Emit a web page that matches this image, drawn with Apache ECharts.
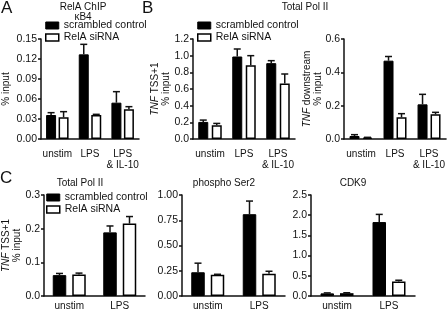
<!DOCTYPE html>
<html>
<head>
<meta charset="utf-8">
<script src="https://cdn.jsdelivr.net/npm/echarts@6/dist/echarts.min.js"></script>
<style>
  html, body { margin: 0; padding: 0; background: #fff; }
  #chart { width: 448px; height: 312px; }
</style>
</head>
<body>
<div id="chart"></div>
<script>
// categories
const cats3 = ['unstim', 'LPS', 'LPS\n& IL-10'];
const cats2 = ['unstim', 'LPS'];
const seriesNames = ['scrambled control', 'RelA siRNA'];

// A: RelA ChIP kB4 (% input), mean and SEM
const relaScr = [0.036, 0.127, 0.0545];
const relaScrSem = [0.0035, 0.015, 0.0165];
const relaSi = [0.0325, 0.036, 0.0445];
const relaSiSem = [0.0085, 0.001, 0.004];

// B left: Total Pol II, TNF TSS+1
const tssScr = [0.205, 0.99, 0.91];
const tssScrSem = [0.022, 0.09, 0.03];
const tssSi = [0.165, 0.885, 0.665];
const tssSiSem = [0.022, 0.115, 0.115];

// B right: Total Pol II, TNF downstream
const dnScr = [0.018, 0.47, 0.208];
const dnScrSem = [0.008, 0.025, 0.06];
const dnSi = [0.008, 0.13, 0.148];
const dnSiSem = [0.002, 0.022, 0.012];

// C: Total Pol II / phospho Ser2 / CDK9
const polScr = [0.062, 0.189];
const polScrSem = [0.005, 0.019];
const polSi = [0.064, 0.215];
const polSiSem = [0.004, 0.021];

const ser2Scr = [0.235, 0.81];
const ser2ScrSem = [0.09, 0.13];
const ser2Si = [0.21, 0.22];
const ser2SiSem = [0.005, 0.025];

const cdk9Scr = [0.065, 1.83];
const cdk9ScrSem = [0.012, 0.19];
const cdk9Si = [0.07, 0.36];
const cdk9SiSem = [0.01, 0.03];

const FONT = 'Liberation Sans, Arial, sans-serif';
const ink = '#111';

const chart = echarts.init(document.getElementById('chart'));

const grids = [
  { left: 40, top: 39, width: 99, height: 100 },   // A
  { left: 193, top: 39, width: 102, height: 100 }, // B left
  { left: 344, top: 39, width: 103, height: 100 }, // B right
  { left: 41, top: 195, width: 104, height: 101 }, // C left
  { left: 182, top: 195, width: 103, height: 101 },// C mid
  { left: 311, top: 195, width: 104, height: 101 } // C right
];

function xAxisFor(i, cats, margin, fs) {
  return {
    type: 'category', gridIndex: i, data: cats,
    axisLine: { lineStyle: { color: ink, width: 1.5 } },
    axisTick: { alignWithLabel: true, length: 3, lineStyle: { color: ink, width: 1.5 } },
    axisLabel: { interval: 0, margin: margin, color: ink, fontSize: fs, fontFamily: FONT, lineHeight: fs + 1 }
  };
}

function yAxisFor(i, max, interval, digits, name, nameGap) {
  const ax = {
    type: 'value', gridIndex: i, min: 0, max: max, interval: interval,
    axisLine: { show: true, lineStyle: { color: ink, width: 1.5 } },
    axisTick: { show: true, length: 3, lineStyle: { color: ink, width: 1.5 } },
    splitLine: { show: false },
    axisLabel: { margin: 4, color: ink, fontSize: 10.5, fontFamily: FONT, formatter: v => v.toFixed(digits) }
  };
  if (name) {
    ax.name = name;
    ax.nameLocation = 'middle';
    ax.nameGap = nameGap;
    ax.nameMoveOverlap = false;
    ax.nameTextStyle = {
      color: ink, fontSize: 10, fontFamily: FONT, lineHeight: 11,
      rich: { i: { fontStyle: 'italic', fontSize: 10, fontFamily: FONT, color: ink } }
    };
  }
  return ax;
}

function errRender(offset) {
  return function (params, api) {
    const c = api.value(0), v = api.value(1), e = api.value(2);
    const p0 = api.coord([c, v]);
    const p1 = api.coord([c, v + e]);
    const x = p0[0] + offset;
    const st = { stroke: ink, lineWidth: 1.5 };
    return {
      type: 'group',
      children: [
        { type: 'line', shape: { x1: x, y1: p0[1], x2: x, y2: p1[1] }, style: st },
        { type: 'line', shape: { x1: x - 3.5, y1: p1[1], x2: x + 3.5, y2: p1[1] }, style: st }
      ]
    };
  };
}

function panelSeries(i, scr, scrSem, si, siSem, bw, gap) {
  const off = (bw + gap) / 2;
  return [
    { name: seriesNames[0], type: 'bar', xAxisIndex: i, yAxisIndex: i, data: scr,
      barWidth: bw, barGap: (gap / bw * 100) + '%',
      itemStyle: { color: '#000', borderColor: '#000', borderWidth: 1 }, z: 2 },
    { name: seriesNames[1], type: 'bar', xAxisIndex: i, yAxisIndex: i, data: si,
      barWidth: bw,
      itemStyle: { color: '#fff', borderColor: '#000', borderWidth: 1.5 }, z: 2 },
    { type: 'custom', xAxisIndex: i, yAxisIndex: i, renderItem: errRender(-off),
      data: scr.map((v, k) => [k, v, scrSem[k]]), encode: { x: 0, y: 1 }, z: 3 },
    { type: 'custom', xAxisIndex: i, yAxisIndex: i, renderItem: errRender(off),
      data: si.map((v, k) => [k, v, siSem[k]]), encode: { x: 0, y: 1 }, z: 3 }
  ];
}

function legendAt(left, top, fs) {
  return {
    data: [
      { name: seriesNames[0], itemStyle: { color: '#000', borderColor: '#000', borderWidth: 1 } },
      { name: seriesNames[1], itemStyle: { color: '#fff', borderColor: '#000', borderWidth: 1.5 } }
    ],
    orient: 'vertical', left: left, top: top, icon: 'rect',
    itemWidth: 13, itemHeight: 7, itemGap: 1, padding: 0, selectedMode: false,
    textStyle: { color: ink, fontSize: fs, fontFamily: FONT, lineHeight: 10 }
  };
}

function label(text, x, y, fs, align) {
  return { text: text, left: x, top: y, textAlign: align || 'center', padding: 0,
    textStyle: { color: ink, fontSize: fs, fontWeight: 'normal', fontFamily: FONT } };
}

const option = {
  animation: false,
  textStyle: { fontFamily: FONT },
  title: [
    label('A', 1, 0, 17, 'left'),
    label('B', 142, 0, 17, 'left'),
    label('C', 0, 170, 17, 'left'),
    label('RelA ChIP', 83, 2, 10),
    label('\u03baB4', 83, 12, 10),
    label('Total Pol II', 305, 2, 10),
    label('Total Pol II', 80, 178, 10),
    label('phospho Ser2', 224, 178, 10),
    label('CDK9', 353, 178, 10)
  ],
  legend: [legendAt(45, 20, 10.5), legendAt(197, 20, 10.5), legendAt(46, 192, 10.5)],
  grid: grids,
  xAxis: [
    xAxisFor(0, cats3, 10, 10), xAxisFor(1, cats3, 10, 10), xAxisFor(2, cats3, 10, 10),
    xAxisFor(3, cats2, 5, 10), xAxisFor(4, cats2, 5, 10), xAxisFor(5, cats2, 5, 10)
  ],
  yAxis: [
    yAxisFor(0, 0.15, 0.03, 2, '% input', 29),
    yAxisFor(1, 1.2, 0.2, 1, '{i|TNF} TSS+1\n% input', 21),
    yAxisFor(2, 0.6, 0.2, 1, '{i|TNF} downstream\n% input', 20),
    yAxisFor(3, 0.3, 0.1, 1, '{i|TNF} TSS+1\n% input', 21),
    yAxisFor(4, 1.0, 0.25, 2),
    yAxisFor(5, 2.5, 0.5, 1)
  ],
  series: [].concat(
    panelSeries(0, relaScr, relaScrSem, relaSi, relaSiSem, 10, 2.5),
    panelSeries(1, tssScr, tssScrSem, tssSi, tssSiSem, 10, 3.5),
    panelSeries(2, dnScr, dnScrSem, dnSi, dnSiSem, 10, 3),
    panelSeries(3, polScr, polScrSem, polSi, polSiSem, 13.5, 6),
    panelSeries(4, ser2Scr, ser2ScrSem, ser2Si, ser2SiSem, 13.5, 6),
    panelSeries(5, cdk9Scr, cdk9ScrSem, cdk9Si, cdk9SiSem, 13.5, 6)
  )
};

chart.setOption(option);
</script>
</body>
</html>
